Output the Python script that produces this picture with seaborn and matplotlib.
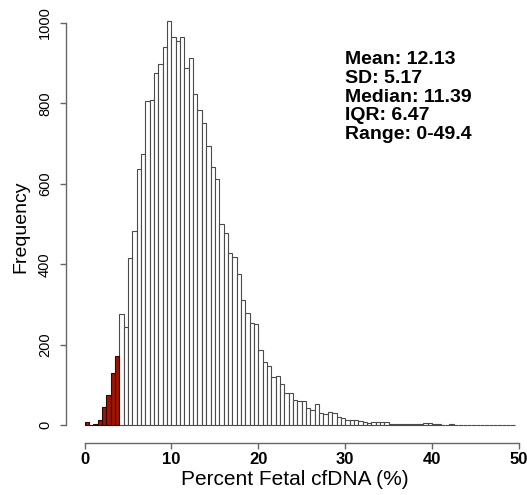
import numpy as np
import pandas as pd
import matplotlib
matplotlib.use("Agg")
import matplotlib.pyplot as plt
import seaborn as sns

# Histogram counts per 0.5% bin, starting at 0
bin_width = 0.5
counts = [
    7, 0, 2, 12, 46, 74, 131, 173,                      # 0 - 4 (red)
    277, 244, 415, 483, 636, 675, 806, 808, 875, 897,   # 4 - 9
    941, 1006, 964, 955, 964, 889, 912, 824, 784, 751,  # 9 - 14
    693, 641, 612, 500, 477, 429, 418, 376, 312, 280,   # 14 - 19
    255, 251, 188, 157, 146, 121, 123, 102, 80, 80,     # 19 - 24
    63, 61, 59, 44, 37, 53, 31, 29, 34, 30,             # 24 - 29
    21, 19, 12, 13, 12, 11, 9, 5, 7, 8,                 # 29 - 34
    7, 7, 4, 2, 3, 2, 2, 3, 2, 2,                       # 34 - 39
    5, 5, 3, 3, 0, 1, 2, 1, 0, 0,                       # 39 - 44
    1, 1, 0, 0, 0, 0, 0, 0, 0, 1, 1,                    # 44 - 49.5
]
red_cutoff = 4.0
x_ticks = [0, 10, 20, 30, 40, 50]
y_ticks = [0, 200, 400, 600, 800, 1000]
stats_lines = ["Mean: 12.13", "SD: 5.17", "Median: 11.39", "IQR: 6.47", "Range: 0-49.4"]

edges = np.arange(len(counts) + 1) * bin_width
centers = edges[:-1] + bin_width / 2
df = pd.DataFrame({"pct": centers, "n": counts})
df_red = df[df.pct < red_cutoff].reset_index(drop=True)
df_white = df[df.pct >= red_cutoff].reset_index(drop=True)

sns.set_style("white")
plt.rcParams["font.family"] = ["Liberation Sans", "DejaVu Sans"]
plt.rcParams["text.color"] = "black"
plt.rcParams["axes.labelcolor"] = "black"
plt.rcParams["xtick.color"] = "black"
plt.rcParams["ytick.color"] = "black"

fig = plt.figure(figsize=(5.27, 4.95), dpi=100)
ax = fig.add_axes([0.12524, 0.10566, 0.8678, 0.8723])

white_edges = [float(e) for e in edges if e >= red_cutoff]
red_edges = [float(e) for e in edges if e <= red_cutoff]
sns.histplot(data=df_white, x="pct", weights="n", bins=white_edges,
             color="white", edgecolor="#4a4a4a", linewidth=0.8, alpha=1, ax=ax)
sns.histplot(data=df_red, x="pct", weights="n", bins=red_edges,
             color="#a01404", edgecolor="#2a0a05", linewidth=0.8, alpha=1, ax=ax)

ax.set_xlim(-2.13, 50.5)
ax.set_ylim(-43.5, 1030)

for s in ["top", "right"]:
    ax.spines[s].set_visible(False)
for s in ["left", "bottom"]:
    ax.spines[s].set_color("#666666")
    ax.spines[s].set_linewidth(1.0)
ax.spines["left"].set_bounds(0, 1000)
ax.spines["bottom"].set_bounds(0, 50)

ax.set_xticks(x_ticks)
ax.set_xticklabels([str(t) for t in x_ticks], fontweight="bold", fontsize=12)
ax.set_yticks(y_ticks)
ax.set_yticklabels([str(t) for t in y_ticks], rotation=90, va="center", fontsize=10.5)
ax.tick_params(axis="both", direction="out", length=4, width=1.0, color="#666666",
               labelcolor="black", bottom=True, left=True)
ax.tick_params(axis="x", pad=3)
ax.tick_params(axis="y", pad=6)

ax.set_xlabel("Percent Fetal cfDNA (%)", fontsize=15, labelpad=2, color="black")
ax.set_ylabel("Frequency", fontsize=14, labelpad=6, color="black")

fig.text(345 / 527, 1 - 51 / 495, "\n".join(stats_lines), ha="left", va="top",
         fontsize=14, fontweight="bold", linespacing=1.14, color="black")

fig.savefig("out.png", dpi=100)
